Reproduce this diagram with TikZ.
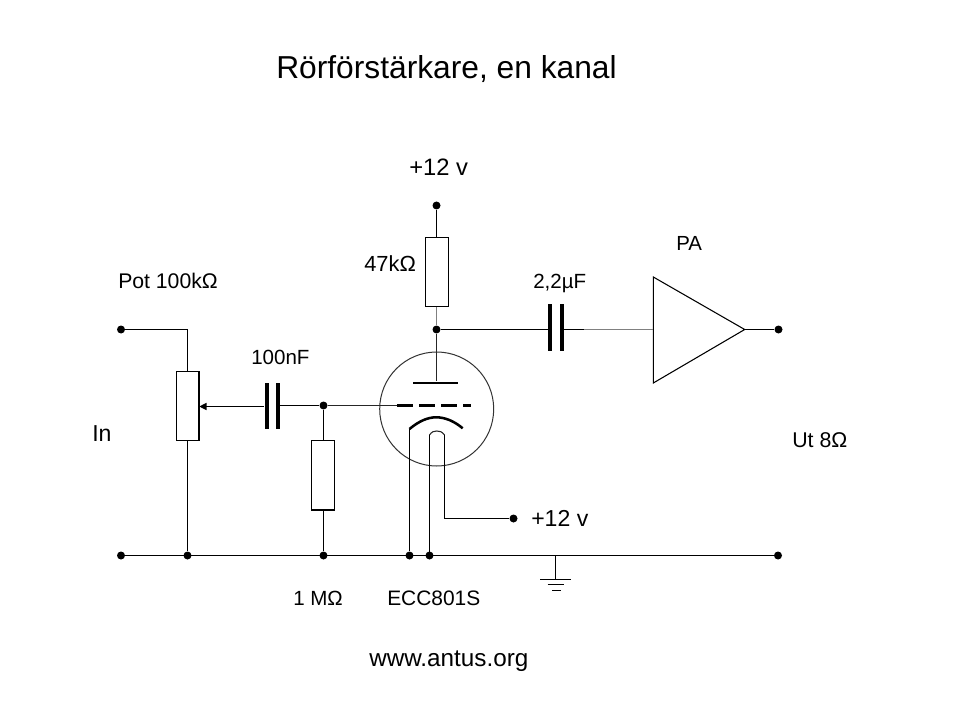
\documentclass[tikz,border=0pt]{standalone}
\usepackage{fontspec}
\setmainfont{Liberation Sans}
\begin{document}
\begin{tikzpicture}[x=0.75pt,y=-0.75pt,
  wire/.style={line width=1pt,black},
  thinwire/.style={line width=0.8pt,black!85},
  graywire/.style={line width=1.05pt,black!50},
  pin/.style={circle,fill=black,inner sep=0pt,minimum size=6pt},
  res/.style={draw,line width=0.8pt,fill=white,inner sep=0pt,minimum width=17.2pt,minimum height=52pt},
  capplate/.style={fill=black,inner sep=0pt,minimum width=3pt,minimum height=35pt},
  lab/.style={anchor=base west,inner sep=0pt,font=\fontsize{15.4}{18}\selectfont},
  junction/.style={inner sep=0pt,minimum size=0pt}]
\useasboundingbox[fill=white] (0,0) rectangle (960,720);
% pins and junctions
\node[pin] (inA) at (121,329.5) {};
\node[pin] (inB) at (121,555.5) {};
\node[pin] (j1) at (187.5,555.5) {};
\node[pin] (j2) at (323.5,555.5) {};
\node[pin] (j3) at (409.5,555.5) {};
\node[pin] (j4) at (429.5,555.5) {};
\node[pin] (outB) at (778,555.5) {};
\node[pin] (vplus) at (436.5,205.5) {};
\node[pin] (anodej) at (436.5,329.5) {};
\node[pin] (gridj) at (323.5,405.5) {};
\node[pin] (heat) at (513.5,518.5) {};
\node[pin] (outA) at (778.5,329.5) {};
% resistors
\node[res] (pot) at (187.5,405.8) {};
\node[res] (r1m) at (323,475.3) {};
\node[res] (r47) at (436.8,272.3) {};
% capacitors
\node[capplate] (c1a) at (266.5,406) {};
\node[capplate] (c1b) at (277.5,406) {};
\node[capplate] (c2a) at (550,327.7) {};
\node[capplate] (c2b) at (561.5,327.7) {};
% tube
\node[circle,draw,line width=0.75pt,black!80,inner sep=0pt,minimum size=85.5pt] (tube) at (436.7,409) {};
\node[fill=black,inner sep=0pt,minimum width=33.8pt,minimum height=1.9pt] (plate) at (435.5,382.8) {};
\coordinate (gridL) at (397,405.5);
\draw[line width=1.9pt] (gridL) -- (412.7,405.5) (419,405.5) -- (435,405.5) (441,405.5) -- (457,405.5) (463,405.5) -- (470.7,405.5);
\draw[line width=1.9pt] (409.5,429) .. controls (419,421) and (428,417.3) .. (436,417.3) .. controls (445,417.3) and (454,421) .. (462.7,428.3);
\coordinate (catL) at (409.5,429);
\coordinate (htL) at (429.5,435);
\coordinate (htR) at (444.5,435);
\draw[thinwire] (htL) .. controls (432,431.5) and (434,431) .. (436.8,431) .. controls (439.5,431) and (442,431.5) .. (htR);
% amplifier
\coordinate (ampIn) at (653.3,329.5);
\coordinate (ampTip) at (744.7,329.5);
\draw[line width=0.8pt] (653.3,277) -- (ampTip) -- (653.3,383) -- cycle;
% wires
\draw[wire] (inA) -| (pot.north);
\draw[wire] (pot.south) -- (j1);
\draw[wire] (inB) -- (outB);
\draw[wire] (gridj) -- (gridj|-r1m.north);
\draw[wire] (j2|-r1m.south) -- (j2);
\draw[wire] (vplus) -- (vplus|-r47.north);
\draw[graywire] (anodej|-r47.south) -- (anodej);
\draw[thinwire] (anodej) -- (anodej|-plate.north);
\draw[wire] (anodej) -- (anodej-|c2a);
\draw[wire] (anodej-|c2b) -- (584,329.5);
\draw[graywire] (584,329.5) -- (ampIn);
\draw[wire] (ampTip) -- (outA);
\draw[wire] (gridj-|c1b) -- (gridj);
\draw[thinwire] (gridj) -- (gridL);
\coordinate (wiper) at (199.3,406.5);
\draw[wire] (c1a.west|-wiper) -- (206,406.5);
\fill (wiper) -- (206.5,402.8) -- (206.5,410.2) -- cycle;
\draw[wire] (catL) -- (j3);
\draw[wire] (htL) -- (htL|-j4);
\draw[wire] (htR) |- (heat);
% ground
\coordinate (gnd) at (555.5,579.5);
\draw[wire] (gnd|-inB) -- (gnd);
\draw[wire] (540,579.5) -- (571,579.5);
\draw[wire] (547.7,584.5) -- (564,584.5);
\draw[wire] (552,590.5) -- (561,590.5);
% labels
\node[lab,font=\fontsize{23.8}{28}\selectfont] (title) at (276,79) {Rörförstärkare, en kanal};
\node[lab,font=\fontsize{17.8}{20}\selectfont] (v1) at (409,176) {+12 v};
\node[lab,font=\fontsize{16.4}{18}\selectfont] (r47l) at (364,272) {47kΩ};
\node[lab,font=\fontsize{15.3}{18}\selectfont] (pal) at (676,251) {PA};
\node[lab] (c2l) at (533,289) {2,2µF};
\node[lab,font=\fontsize{15.9}{18}\selectfont] (potl) at (118,288) {Pot 100kΩ};
\node[lab] (c1l) at (251,364) {100nF};
\node[lab,font=\fontsize{17.3}{20}\selectfont] (inl) at (92,441) {In};
\node[lab,font=\fontsize{16}{18}\selectfont] (utl) at (792,447) {Ut 8Ω};
\node[lab,font=\fontsize{17.3}{20}\selectfont] (v2) at (531,526) {+12 v};
\node[lab] (r1l) at (293,605) {1 MΩ};
\node[lab,font=\fontsize{15.7}{18}\selectfont] (ecc) at (387,605) {ECC801S};
\node[lab,font=\fontsize{18.2}{20}\selectfont] (www) at (369,666) {www.antus.org};
\end{tikzpicture}
\end{document}
